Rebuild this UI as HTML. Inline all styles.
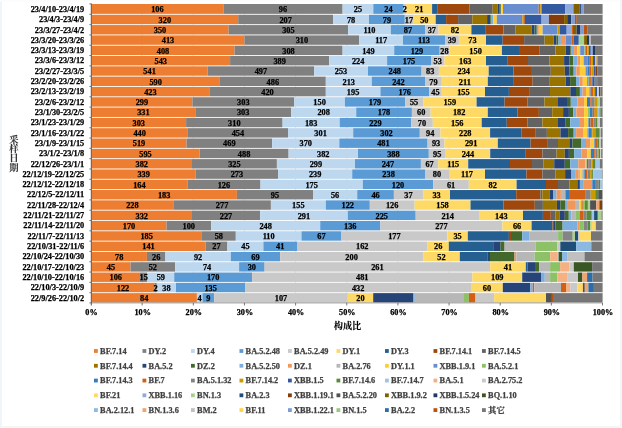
<!DOCTYPE html>
<html><head><meta charset="utf-8"><style>
html,body{margin:0;padding:0;background:#fff;width:622px;height:428px;overflow:hidden}
svg text{white-space:pre}
svg{filter:none}
</style></head><body>
<svg width="622" height="428" viewBox="0 0 622 428" style="position:absolute;left:0;top:0">
<rect x="0" y="0" width="622" height="428" fill="#ffffff"/>
<rect x="0" y="0" width="2" height="428" fill="#EEF6FA"/>
<rect x="0" y="0" width="622" height="1.5" fill="#FBFCFC"/>
<rect x="620" y="0" width="2" height="428" fill="#F1F7F9"/>
<rect x="0" y="426" width="622" height="2" fill="#F4F6F6"/>
<line x1="142.15" y1="4.45" x2="142.15" y2="302.54" stroke="#d9d9d9" stroke-width="0.75"/>
<line x1="193.30" y1="4.45" x2="193.30" y2="302.54" stroke="#d9d9d9" stroke-width="0.75"/>
<line x1="244.45" y1="4.45" x2="244.45" y2="302.54" stroke="#d9d9d9" stroke-width="0.75"/>
<line x1="295.60" y1="4.45" x2="295.60" y2="302.54" stroke="#d9d9d9" stroke-width="0.75"/>
<line x1="346.75" y1="4.45" x2="346.75" y2="302.54" stroke="#d9d9d9" stroke-width="0.75"/>
<line x1="397.90" y1="4.45" x2="397.90" y2="302.54" stroke="#d9d9d9" stroke-width="0.75"/>
<line x1="449.05" y1="4.45" x2="449.05" y2="302.54" stroke="#d9d9d9" stroke-width="0.75"/>
<line x1="500.20" y1="4.45" x2="500.20" y2="302.54" stroke="#d9d9d9" stroke-width="0.75"/>
<line x1="551.35" y1="4.45" x2="551.35" y2="302.54" stroke="#d9d9d9" stroke-width="0.75"/>
<line x1="602.50" y1="4.45" x2="602.50" y2="302.54" stroke="#d9d9d9" stroke-width="0.75"/>
<rect x="91.50" y="4.00" width="131.90" height="9.86" fill="#ED7D31"/>
<rect x="223.40" y="4.00" width="119.20" height="9.86" fill="#808080"/>
<rect x="342.60" y="4.00" width="30.70" height="9.86" fill="#BDD7EE"/>
<rect x="373.30" y="4.00" width="30.30" height="9.86" fill="#5B9BD5"/>
<rect x="403.60" y="4.00" width="2.60" height="9.86" fill="#C9C9C9"/>
<rect x="406.20" y="4.00" width="25.90" height="9.86" fill="#FFD966"/>
<rect x="432.10" y="4.00" width="5.10" height="9.86" fill="#255E91"/>
<rect x="437.20" y="4.00" width="32.20" height="9.86" fill="#9E480E"/>
<rect x="469.40" y="4.00" width="23.30" height="9.86" fill="#636363"/>
<rect x="492.70" y="4.00" width="4.80" height="9.86" fill="#997300"/>
<rect x="497.50" y="4.00" width="1.70" height="9.86" fill="#264478"/>
<rect x="499.20" y="4.00" width="1.60" height="9.86" fill="#43682B"/>
<rect x="500.80" y="4.00" width="0.60" height="9.86" fill="#7CAFDD"/>
<rect x="501.40" y="4.00" width="1.60" height="9.86" fill="#FFCD33"/>
<rect x="503.00" y="4.00" width="35.70" height="9.86" fill="#698ED0"/>
<rect x="538.70" y="4.00" width="1.60" height="9.86" fill="#D26012"/>
<rect x="540.30" y="4.00" width="1.30" height="9.86" fill="#CC9A00"/>
<rect x="541.60" y="4.00" width="23.50" height="9.86" fill="#335AA1"/>
<rect x="565.10" y="4.00" width="8.30" height="9.86" fill="#8FAADC"/>
<rect x="573.40" y="4.00" width="6.30" height="9.86" fill="#806000"/>
<rect x="579.70" y="4.00" width="1.20" height="9.86" fill="#203864"/>
<rect x="580.90" y="4.00" width="2.90" height="9.86" fill="#7C9CD6"/>
<rect x="583.80" y="4.00" width="18.70" height="9.86" fill="#767676"/>
<rect x="91.50" y="14.76" width="146.70" height="9.41" fill="#ED7D31"/>
<rect x="238.20" y="14.76" width="94.90" height="9.41" fill="#808080"/>
<rect x="333.10" y="14.76" width="35.90" height="9.41" fill="#BDD7EE"/>
<rect x="369.00" y="14.76" width="35.80" height="9.41" fill="#5B9BD5"/>
<rect x="404.80" y="14.76" width="8.20" height="9.41" fill="#C9C9C9"/>
<rect x="413.00" y="14.76" width="22.70" height="9.41" fill="#FFD966"/>
<rect x="435.70" y="14.76" width="10.40" height="9.41" fill="#255E91"/>
<rect x="446.10" y="14.76" width="12.00" height="9.41" fill="#9E480E"/>
<rect x="458.10" y="14.76" width="14.20" height="9.41" fill="#636363"/>
<rect x="472.30" y="14.76" width="14.80" height="9.41" fill="#997300"/>
<rect x="487.10" y="14.76" width="3.20" height="9.41" fill="#264478"/>
<rect x="490.30" y="14.76" width="0.70" height="9.41" fill="#43682B"/>
<rect x="491.00" y="14.76" width="2.40" height="9.41" fill="#7CAFDD"/>
<rect x="493.40" y="14.76" width="3.40" height="9.41" fill="#FFCD33"/>
<rect x="496.80" y="14.76" width="24.20" height="9.41" fill="#698ED0"/>
<rect x="521.00" y="14.76" width="1.30" height="9.41" fill="#848484"/>
<rect x="522.30" y="14.76" width="1.00" height="9.41" fill="#CC9A00"/>
<rect x="523.30" y="14.76" width="1.60" height="9.41" fill="#D26012"/>
<rect x="524.90" y="14.76" width="16.70" height="9.41" fill="#335AA1"/>
<rect x="541.60" y="14.76" width="7.30" height="9.41" fill="#8FAADC"/>
<rect x="548.90" y="14.76" width="15.20" height="9.41" fill="#843C0B"/>
<rect x="564.10" y="14.76" width="3.10" height="9.41" fill="#806000"/>
<rect x="567.20" y="14.76" width="4.00" height="9.41" fill="#203864"/>
<rect x="571.20" y="14.76" width="3.70" height="9.41" fill="#7C9CD6"/>
<rect x="574.90" y="14.76" width="1.90" height="9.41" fill="#B85410"/>
<rect x="576.80" y="14.76" width="25.70" height="9.41" fill="#767676"/>
<rect x="91.50" y="25.07" width="137.10" height="9.41" fill="#ED7D31"/>
<rect x="228.60" y="25.07" width="119.60" height="9.41" fill="#808080"/>
<rect x="348.20" y="25.07" width="42.60" height="9.41" fill="#BDD7EE"/>
<rect x="390.80" y="25.07" width="34.30" height="9.41" fill="#5B9BD5"/>
<rect x="425.10" y="25.07" width="13.50" height="9.41" fill="#C9C9C9"/>
<rect x="438.60" y="25.07" width="32.80" height="9.41" fill="#FFD966"/>
<rect x="471.40" y="25.07" width="14.40" height="9.41" fill="#255E91"/>
<rect x="485.80" y="25.07" width="17.70" height="9.41" fill="#9E480E"/>
<rect x="503.50" y="25.07" width="12.10" height="9.41" fill="#636363"/>
<rect x="515.60" y="25.07" width="15.90" height="9.41" fill="#997300"/>
<rect x="531.50" y="25.07" width="3.10" height="9.41" fill="#264478"/>
<rect x="534.60" y="25.07" width="2.20" height="9.41" fill="#43682B"/>
<rect x="536.80" y="25.07" width="1.40" height="9.41" fill="#7CAFDD"/>
<rect x="538.20" y="25.07" width="1.50" height="9.41" fill="#F1975A"/>
<rect x="539.70" y="25.07" width="2.90" height="9.41" fill="#FFCD33"/>
<rect x="542.60" y="25.07" width="14.70" height="9.41" fill="#698ED0"/>
<rect x="557.30" y="25.07" width="2.70" height="9.41" fill="#CC9A00"/>
<rect x="560.00" y="25.07" width="6.70" height="9.41" fill="#335AA1"/>
<rect x="566.70" y="25.07" width="5.30" height="9.41" fill="#8FAADC"/>
<rect x="572.00" y="25.07" width="1.00" height="9.41" fill="#D26012"/>
<rect x="573.00" y="25.07" width="3.60" height="9.41" fill="#806000"/>
<rect x="576.60" y="25.07" width="3.90" height="9.41" fill="#203864"/>
<rect x="580.50" y="25.07" width="3.10" height="9.41" fill="#7C9CD6"/>
<rect x="583.60" y="25.07" width="3.60" height="9.41" fill="#B85410"/>
<rect x="587.20" y="25.07" width="15.30" height="9.41" fill="#767676"/>
<rect x="91.50" y="35.38" width="153.00" height="9.41" fill="#ED7D31"/>
<rect x="244.50" y="35.38" width="114.80" height="9.41" fill="#808080"/>
<rect x="359.30" y="35.38" width="43.70" height="9.41" fill="#BDD7EE"/>
<rect x="403.00" y="35.38" width="42.00" height="9.41" fill="#5B9BD5"/>
<rect x="445.00" y="35.38" width="13.90" height="9.41" fill="#C9C9C9"/>
<rect x="458.90" y="35.38" width="27.10" height="9.41" fill="#FFD966"/>
<rect x="486.00" y="35.38" width="16.70" height="9.41" fill="#255E91"/>
<rect x="502.70" y="35.38" width="21.40" height="9.41" fill="#9E480E"/>
<rect x="524.10" y="35.38" width="20.50" height="9.41" fill="#636363"/>
<rect x="544.60" y="35.38" width="9.10" height="9.41" fill="#997300"/>
<rect x="553.70" y="35.38" width="2.70" height="9.41" fill="#264478"/>
<rect x="556.40" y="35.38" width="2.10" height="9.41" fill="#43682B"/>
<rect x="558.50" y="35.38" width="2.40" height="9.41" fill="#7CAFDD"/>
<rect x="560.90" y="35.38" width="4.80" height="9.41" fill="#F1975A"/>
<rect x="565.70" y="35.38" width="6.10" height="9.41" fill="#698ED0"/>
<rect x="571.80" y="35.38" width="1.90" height="9.41" fill="#D26012"/>
<rect x="573.70" y="35.38" width="5.10" height="9.41" fill="#335AA1"/>
<rect x="578.80" y="35.38" width="5.30" height="9.41" fill="#A9D18E"/>
<rect x="584.10" y="35.38" width="2.90" height="9.41" fill="#806000"/>
<rect x="587.00" y="35.38" width="2.40" height="9.41" fill="#203864"/>
<rect x="589.40" y="35.38" width="1.40" height="9.41" fill="#C0C0C0"/>
<rect x="590.80" y="35.38" width="11.70" height="9.41" fill="#767676"/>
<rect x="91.50" y="45.69" width="143.00" height="9.41" fill="#ED7D31"/>
<rect x="234.50" y="45.69" width="108.10" height="9.41" fill="#808080"/>
<rect x="342.60" y="45.69" width="51.60" height="9.41" fill="#BDD7EE"/>
<rect x="394.20" y="45.69" width="45.50" height="9.41" fill="#5B9BD5"/>
<rect x="439.70" y="45.69" width="9.60" height="9.41" fill="#C9C9C9"/>
<rect x="449.30" y="45.69" width="52.60" height="9.41" fill="#FFD966"/>
<rect x="501.90" y="45.69" width="17.10" height="9.41" fill="#255E91"/>
<rect x="519.00" y="45.69" width="20.20" height="9.41" fill="#9E480E"/>
<rect x="539.20" y="45.69" width="16.20" height="9.41" fill="#636363"/>
<rect x="555.40" y="45.69" width="10.30" height="9.41" fill="#997300"/>
<rect x="565.70" y="45.69" width="4.60" height="9.41" fill="#264478"/>
<rect x="570.30" y="45.69" width="0.70" height="9.41" fill="#43682B"/>
<rect x="571.00" y="45.69" width="3.10" height="9.41" fill="#7CAFDD"/>
<rect x="574.10" y="45.69" width="3.20" height="9.41" fill="#F1975A"/>
<rect x="577.30" y="45.69" width="2.90" height="9.41" fill="#FFCD33"/>
<rect x="580.20" y="45.69" width="4.30" height="9.41" fill="#698ED0"/>
<rect x="584.50" y="45.69" width="0.80" height="9.41" fill="#8CC168"/>
<rect x="585.30" y="45.69" width="2.10" height="9.41" fill="#D26012"/>
<rect x="587.40" y="45.69" width="1.50" height="9.41" fill="#CC9A00"/>
<rect x="588.90" y="45.69" width="1.90" height="9.41" fill="#335AA1"/>
<rect x="590.80" y="45.69" width="1.90" height="9.41" fill="#8FAADC"/>
<rect x="592.70" y="45.69" width="2.30" height="9.41" fill="#203864"/>
<rect x="595.00" y="45.69" width="7.50" height="9.41" fill="#767676"/>
<rect x="91.50" y="56.00" width="138.60" height="9.41" fill="#ED7D31"/>
<rect x="230.10" y="56.00" width="99.10" height="9.41" fill="#808080"/>
<rect x="329.20" y="56.00" width="57.90" height="9.41" fill="#BDD7EE"/>
<rect x="387.10" y="56.00" width="43.90" height="9.41" fill="#5B9BD5"/>
<rect x="431.00" y="56.00" width="13.50" height="9.41" fill="#C9C9C9"/>
<rect x="444.50" y="56.00" width="41.50" height="9.41" fill="#FFD966"/>
<rect x="486.00" y="56.00" width="21.80" height="9.41" fill="#255E91"/>
<rect x="507.80" y="56.00" width="20.20" height="9.41" fill="#9E480E"/>
<rect x="528.00" y="56.00" width="21.30" height="9.41" fill="#636363"/>
<rect x="549.30" y="56.00" width="14.80" height="9.41" fill="#997300"/>
<rect x="564.10" y="56.00" width="5.50" height="9.41" fill="#264478"/>
<rect x="569.60" y="56.00" width="3.60" height="9.41" fill="#43682B"/>
<rect x="573.20" y="56.00" width="4.10" height="9.41" fill="#7CAFDD"/>
<rect x="577.30" y="56.00" width="2.90" height="9.41" fill="#F1975A"/>
<rect x="580.20" y="56.00" width="3.40" height="9.41" fill="#FFCD33"/>
<rect x="583.60" y="56.00" width="3.80" height="9.41" fill="#698ED0"/>
<rect x="587.40" y="56.00" width="2.40" height="9.41" fill="#327DC2"/>
<rect x="589.80" y="56.00" width="1.30" height="9.41" fill="#D26012"/>
<rect x="591.10" y="56.00" width="1.90" height="9.41" fill="#CC9A00"/>
<rect x="593.00" y="56.00" width="2.10" height="9.41" fill="#335AA1"/>
<rect x="595.10" y="56.00" width="1.50" height="9.41" fill="#A9D18E"/>
<rect x="596.60" y="56.00" width="0.90" height="9.41" fill="#D26012"/>
<rect x="597.50" y="56.00" width="5.00" height="9.41" fill="#767676"/>
<rect x="91.50" y="66.31" width="116.20" height="9.41" fill="#ED7D31"/>
<rect x="207.70" y="66.31" width="106.40" height="9.41" fill="#808080"/>
<rect x="314.10" y="66.31" width="53.90" height="9.41" fill="#BDD7EE"/>
<rect x="368.00" y="66.31" width="53.60" height="9.41" fill="#5B9BD5"/>
<rect x="421.60" y="66.31" width="17.30" height="9.41" fill="#C9C9C9"/>
<rect x="438.90" y="66.31" width="49.80" height="9.41" fill="#FFD966"/>
<rect x="488.70" y="66.31" width="24.70" height="9.41" fill="#255E91"/>
<rect x="513.40" y="66.31" width="17.60" height="9.41" fill="#9E480E"/>
<rect x="531.00" y="66.31" width="19.80" height="9.41" fill="#636363"/>
<rect x="550.80" y="66.31" width="14.00" height="9.41" fill="#997300"/>
<rect x="564.80" y="66.31" width="4.50" height="9.41" fill="#264478"/>
<rect x="569.30" y="66.31" width="4.40" height="9.41" fill="#43682B"/>
<rect x="573.70" y="66.31" width="2.60" height="9.41" fill="#7CAFDD"/>
<rect x="576.30" y="66.31" width="3.60" height="9.41" fill="#F1975A"/>
<rect x="579.90" y="66.31" width="5.60" height="9.41" fill="#FFCD33"/>
<rect x="585.50" y="66.31" width="1.90" height="9.41" fill="#698ED0"/>
<rect x="587.40" y="66.31" width="2.40" height="9.41" fill="#327DC2"/>
<rect x="589.80" y="66.31" width="1.50" height="9.41" fill="#D26012"/>
<rect x="591.30" y="66.31" width="2.40" height="9.41" fill="#CC9A00"/>
<rect x="593.70" y="66.31" width="1.90" height="9.41" fill="#335AA1"/>
<rect x="595.60" y="66.31" width="2.00" height="9.41" fill="#843C0B"/>
<rect x="597.60" y="66.31" width="4.90" height="9.41" fill="#767676"/>
<rect x="91.50" y="76.62" width="128.40" height="9.41" fill="#ED7D31"/>
<rect x="219.90" y="76.62" width="105.90" height="9.41" fill="#808080"/>
<rect x="325.80" y="76.62" width="46.00" height="9.41" fill="#BDD7EE"/>
<rect x="371.80" y="76.62" width="53.20" height="9.41" fill="#5B9BD5"/>
<rect x="425.00" y="76.62" width="16.80" height="9.41" fill="#C9C9C9"/>
<rect x="441.80" y="76.62" width="46.00" height="9.41" fill="#FFD966"/>
<rect x="487.80" y="76.62" width="25.30" height="9.41" fill="#255E91"/>
<rect x="513.10" y="76.62" width="19.60" height="9.41" fill="#9E480E"/>
<rect x="532.70" y="76.62" width="17.10" height="9.41" fill="#636363"/>
<rect x="549.80" y="76.62" width="15.90" height="9.41" fill="#997300"/>
<rect x="565.70" y="76.62" width="4.40" height="9.41" fill="#264478"/>
<rect x="570.10" y="76.62" width="5.90" height="9.41" fill="#43682B"/>
<rect x="576.00" y="76.62" width="3.70" height="9.41" fill="#7CAFDD"/>
<rect x="579.70" y="76.62" width="3.10" height="9.41" fill="#F1975A"/>
<rect x="582.80" y="76.62" width="4.20" height="9.41" fill="#FFCD33"/>
<rect x="587.00" y="76.62" width="0.90" height="9.41" fill="#698ED0"/>
<rect x="587.90" y="76.62" width="0.70" height="9.41" fill="#8CC168"/>
<rect x="588.60" y="76.62" width="1.20" height="9.41" fill="#327DC2"/>
<rect x="589.80" y="76.62" width="1.10" height="9.41" fill="#D26012"/>
<rect x="590.90" y="76.62" width="1.40" height="9.41" fill="#CC9A00"/>
<rect x="592.30" y="76.62" width="2.40" height="9.41" fill="#335AA1"/>
<rect x="594.70" y="76.62" width="2.40" height="9.41" fill="#848484"/>
<rect x="597.10" y="76.62" width="5.40" height="9.41" fill="#767676"/>
<rect x="91.50" y="86.93" width="117.80" height="9.41" fill="#ED7D31"/>
<rect x="209.30" y="86.93" width="116.50" height="9.41" fill="#808080"/>
<rect x="325.80" y="86.93" width="54.60" height="9.41" fill="#BDD7EE"/>
<rect x="380.40" y="86.93" width="48.80" height="9.41" fill="#5B9BD5"/>
<rect x="429.20" y="86.93" width="12.60" height="9.41" fill="#C9C9C9"/>
<rect x="441.80" y="86.93" width="43.20" height="9.41" fill="#FFD966"/>
<rect x="485.00" y="86.93" width="23.90" height="9.41" fill="#255E91"/>
<rect x="508.90" y="86.93" width="20.20" height="9.41" fill="#9E480E"/>
<rect x="529.10" y="86.93" width="20.90" height="9.41" fill="#636363"/>
<rect x="550.00" y="86.93" width="20.30" height="9.41" fill="#997300"/>
<rect x="570.30" y="86.93" width="5.70" height="9.41" fill="#264478"/>
<rect x="576.00" y="86.93" width="3.90" height="9.41" fill="#43682B"/>
<rect x="579.90" y="86.93" width="2.70" height="9.41" fill="#7CAFDD"/>
<rect x="582.60" y="86.93" width="3.40" height="9.41" fill="#F1975A"/>
<rect x="586.00" y="86.93" width="3.40" height="9.41" fill="#FFCD33"/>
<rect x="589.40" y="86.93" width="1.40" height="9.41" fill="#698ED0"/>
<rect x="590.80" y="86.93" width="2.40" height="9.41" fill="#D26012"/>
<rect x="593.20" y="86.93" width="1.90" height="9.41" fill="#CC9A00"/>
<rect x="595.10" y="86.93" width="2.00" height="9.41" fill="#335AA1"/>
<rect x="597.10" y="86.93" width="1.90" height="9.41" fill="#C9C9C9"/>
<rect x="599.00" y="86.93" width="1.40" height="9.41" fill="#843C0B"/>
<rect x="600.40" y="86.93" width="2.10" height="9.41" fill="#767676"/>
<rect x="91.50" y="97.24" width="100.90" height="9.41" fill="#ED7D31"/>
<rect x="192.40" y="97.24" width="101.90" height="9.41" fill="#808080"/>
<rect x="294.30" y="97.24" width="50.60" height="9.41" fill="#BDD7EE"/>
<rect x="344.90" y="97.24" width="60.20" height="9.41" fill="#5B9BD5"/>
<rect x="405.10" y="97.24" width="18.00" height="9.41" fill="#C9C9C9"/>
<rect x="423.10" y="97.24" width="53.50" height="9.41" fill="#FFD966"/>
<rect x="476.60" y="97.24" width="28.00" height="9.41" fill="#255E91"/>
<rect x="504.60" y="97.24" width="22.70" height="9.41" fill="#9E480E"/>
<rect x="527.30" y="97.24" width="17.10" height="9.41" fill="#636363"/>
<rect x="544.40" y="97.24" width="13.60" height="9.41" fill="#997300"/>
<rect x="558.00" y="97.24" width="9.00" height="9.41" fill="#264478"/>
<rect x="567.00" y="97.24" width="3.80" height="9.41" fill="#43682B"/>
<rect x="570.80" y="97.24" width="6.80" height="9.41" fill="#7CAFDD"/>
<rect x="577.60" y="97.24" width="6.50" height="9.41" fill="#F1975A"/>
<rect x="584.10" y="97.24" width="2.90" height="9.41" fill="#FFCD33"/>
<rect x="587.00" y="97.24" width="3.30" height="9.41" fill="#327DC2"/>
<rect x="590.30" y="97.24" width="1.50" height="9.41" fill="#D26012"/>
<rect x="591.80" y="97.24" width="2.90" height="9.41" fill="#848484"/>
<rect x="594.70" y="97.24" width="3.10" height="9.41" fill="#CC9A00"/>
<rect x="597.80" y="97.24" width="2.20" height="9.41" fill="#A9D18E"/>
<rect x="600.00" y="97.24" width="2.50" height="9.41" fill="#767676"/>
<rect x="91.50" y="107.55" width="103.80" height="9.41" fill="#ED7D31"/>
<rect x="195.30" y="107.55" width="95.80" height="9.41" fill="#808080"/>
<rect x="291.10" y="107.55" width="65.10" height="9.41" fill="#BDD7EE"/>
<rect x="356.20" y="107.55" width="55.70" height="9.41" fill="#5B9BD5"/>
<rect x="411.90" y="107.55" width="18.70" height="9.41" fill="#C9C9C9"/>
<rect x="430.60" y="107.55" width="57.20" height="9.41" fill="#FFD966"/>
<rect x="487.80" y="107.55" width="29.50" height="9.41" fill="#255E91"/>
<rect x="517.30" y="107.55" width="21.60" height="9.41" fill="#9E480E"/>
<rect x="538.90" y="107.55" width="13.30" height="9.41" fill="#636363"/>
<rect x="552.20" y="107.55" width="10.90" height="9.41" fill="#997300"/>
<rect x="563.10" y="107.55" width="5.80" height="9.41" fill="#264478"/>
<rect x="568.90" y="107.55" width="4.50" height="9.41" fill="#43682B"/>
<rect x="573.40" y="107.55" width="2.90" height="9.41" fill="#7CAFDD"/>
<rect x="576.30" y="107.55" width="7.80" height="9.41" fill="#F1975A"/>
<rect x="584.10" y="107.55" width="3.80" height="9.41" fill="#FFCD33"/>
<rect x="587.90" y="107.55" width="1.90" height="9.41" fill="#8CC168"/>
<rect x="589.80" y="107.55" width="2.90" height="9.41" fill="#327DC2"/>
<rect x="592.70" y="107.55" width="2.00" height="9.41" fill="#D26012"/>
<rect x="594.70" y="107.55" width="3.10" height="9.41" fill="#CC9A00"/>
<rect x="597.80" y="107.55" width="1.70" height="9.41" fill="#9DC3E6"/>
<rect x="599.50" y="107.55" width="1.20" height="9.41" fill="#5A8A39"/>
<rect x="600.70" y="107.55" width="1.80" height="9.41" fill="#767676"/>
<rect x="91.50" y="117.86" width="94.60" height="9.41" fill="#ED7D31"/>
<rect x="186.10" y="117.86" width="96.50" height="9.41" fill="#808080"/>
<rect x="282.60" y="117.86" width="57.10" height="9.41" fill="#BDD7EE"/>
<rect x="339.70" y="117.86" width="71.50" height="9.41" fill="#5B9BD5"/>
<rect x="411.20" y="117.86" width="21.60" height="9.41" fill="#C9C9C9"/>
<rect x="432.80" y="117.86" width="48.90" height="9.41" fill="#FFD966"/>
<rect x="481.70" y="117.86" width="25.10" height="9.41" fill="#255E91"/>
<rect x="506.80" y="117.86" width="20.50" height="9.41" fill="#9E480E"/>
<rect x="527.30" y="117.86" width="15.10" height="9.41" fill="#636363"/>
<rect x="542.40" y="117.86" width="15.60" height="9.41" fill="#997300"/>
<rect x="558.00" y="117.86" width="7.70" height="9.41" fill="#264478"/>
<rect x="565.70" y="117.86" width="4.60" height="9.41" fill="#43682B"/>
<rect x="570.30" y="117.86" width="9.60" height="9.41" fill="#7CAFDD"/>
<rect x="579.90" y="117.86" width="4.20" height="9.41" fill="#F1975A"/>
<rect x="584.10" y="117.86" width="4.30" height="9.41" fill="#FFCD33"/>
<rect x="588.40" y="117.86" width="2.10" height="9.41" fill="#327DC2"/>
<rect x="590.50" y="117.86" width="2.90" height="9.41" fill="#D26012"/>
<rect x="593.40" y="117.86" width="1.90" height="9.41" fill="#848484"/>
<rect x="595.30" y="117.86" width="2.30" height="9.41" fill="#5A8A39"/>
<rect x="597.60" y="117.86" width="2.40" height="9.41" fill="#C9C9C9"/>
<rect x="600.00" y="117.86" width="2.50" height="9.41" fill="#767676"/>
<rect x="91.50" y="128.17" width="96.40" height="9.41" fill="#ED7D31"/>
<rect x="187.90" y="128.17" width="100.10" height="9.41" fill="#808080"/>
<rect x="288.00" y="128.17" width="65.20" height="9.41" fill="#BDD7EE"/>
<rect x="353.20" y="128.17" width="66.60" height="9.41" fill="#5B9BD5"/>
<rect x="419.80" y="128.17" width="20.70" height="9.41" fill="#C9C9C9"/>
<rect x="440.50" y="128.17" width="49.60" height="9.41" fill="#FFD966"/>
<rect x="490.10" y="128.17" width="31.60" height="9.41" fill="#255E91"/>
<rect x="521.70" y="128.17" width="14.10" height="9.41" fill="#9E480E"/>
<rect x="535.80" y="128.17" width="11.10" height="9.41" fill="#636363"/>
<rect x="546.90" y="128.17" width="13.50" height="9.41" fill="#997300"/>
<rect x="560.40" y="128.17" width="7.70" height="9.41" fill="#264478"/>
<rect x="568.10" y="128.17" width="5.60" height="9.41" fill="#43682B"/>
<rect x="573.70" y="128.17" width="2.40" height="9.41" fill="#7CAFDD"/>
<rect x="576.10" y="128.17" width="7.50" height="9.41" fill="#F1975A"/>
<rect x="583.60" y="128.17" width="3.80" height="9.41" fill="#FFCD33"/>
<rect x="587.40" y="128.17" width="1.20" height="9.41" fill="#698ED0"/>
<rect x="588.60" y="128.17" width="2.50" height="9.41" fill="#327DC2"/>
<rect x="591.10" y="128.17" width="1.20" height="9.41" fill="#D26012"/>
<rect x="592.30" y="128.17" width="3.00" height="9.41" fill="#CC9A00"/>
<rect x="595.30" y="128.17" width="4.50" height="9.41" fill="#5A8A39"/>
<rect x="599.80" y="128.17" width="0.90" height="9.41" fill="#C9C9C9"/>
<rect x="600.70" y="128.17" width="1.80" height="9.41" fill="#767676"/>
<rect x="91.50" y="138.48" width="95.00" height="9.41" fill="#ED7D31"/>
<rect x="186.50" y="138.48" width="85.70" height="9.41" fill="#808080"/>
<rect x="272.20" y="138.48" width="67.10" height="9.41" fill="#BDD7EE"/>
<rect x="339.30" y="138.48" width="88.30" height="9.41" fill="#5B9BD5"/>
<rect x="427.60" y="138.48" width="16.90" height="9.41" fill="#C9C9C9"/>
<rect x="444.50" y="138.48" width="53.30" height="9.41" fill="#FFD966"/>
<rect x="497.80" y="138.48" width="32.80" height="9.41" fill="#255E91"/>
<rect x="530.60" y="138.48" width="16.50" height="9.41" fill="#9E480E"/>
<rect x="547.10" y="138.48" width="10.90" height="9.41" fill="#636363"/>
<rect x="558.00" y="138.48" width="11.30" height="9.41" fill="#997300"/>
<rect x="569.30" y="138.48" width="3.20" height="9.41" fill="#264478"/>
<rect x="572.50" y="138.48" width="9.00" height="9.41" fill="#43682B"/>
<rect x="581.50" y="138.48" width="4.50" height="9.41" fill="#7CAFDD"/>
<rect x="586.00" y="138.48" width="4.50" height="9.41" fill="#F1975A"/>
<rect x="590.50" y="138.48" width="3.90" height="9.41" fill="#FFCD33"/>
<rect x="594.40" y="138.48" width="1.50" height="9.41" fill="#327DC2"/>
<rect x="595.90" y="138.48" width="1.90" height="9.41" fill="#D26012"/>
<rect x="597.80" y="138.48" width="1.70" height="9.41" fill="#5A8A39"/>
<rect x="599.50" y="138.48" width="1.40" height="9.41" fill="#C9C9C9"/>
<rect x="600.90" y="138.48" width="1.60" height="9.41" fill="#767676"/>
<rect x="91.50" y="148.79" width="108.10" height="9.41" fill="#ED7D31"/>
<rect x="199.60" y="148.79" width="89.00" height="9.41" fill="#808080"/>
<rect x="288.60" y="148.79" width="69.40" height="9.41" fill="#BDD7EE"/>
<rect x="358.00" y="148.79" width="70.80" height="9.41" fill="#5B9BD5"/>
<rect x="428.80" y="148.79" width="16.90" height="9.41" fill="#C9C9C9"/>
<rect x="445.70" y="148.79" width="44.50" height="9.41" fill="#FFD966"/>
<rect x="490.20" y="148.79" width="35.60" height="9.41" fill="#255E91"/>
<rect x="525.80" y="148.79" width="16.60" height="9.41" fill="#9E480E"/>
<rect x="542.40" y="148.79" width="14.20" height="9.41" fill="#636363"/>
<rect x="556.60" y="148.79" width="8.20" height="9.41" fill="#997300"/>
<rect x="564.80" y="148.79" width="4.10" height="9.41" fill="#264478"/>
<rect x="568.90" y="148.79" width="5.20" height="9.41" fill="#43682B"/>
<rect x="574.10" y="148.79" width="7.50" height="9.41" fill="#7CAFDD"/>
<rect x="581.60" y="148.79" width="5.80" height="9.41" fill="#F1975A"/>
<rect x="587.40" y="148.79" width="3.40" height="9.41" fill="#FFCD33"/>
<rect x="590.80" y="148.79" width="3.40" height="9.41" fill="#327DC2"/>
<rect x="594.20" y="148.79" width="1.10" height="9.41" fill="#D26012"/>
<rect x="595.30" y="148.79" width="2.30" height="9.41" fill="#848484"/>
<rect x="597.60" y="148.79" width="0.90" height="9.41" fill="#CC9A00"/>
<rect x="598.50" y="148.79" width="1.70" height="9.41" fill="#5A8A39"/>
<rect x="600.20" y="148.79" width="0.90" height="9.41" fill="#C9C9C9"/>
<rect x="601.10" y="148.79" width="1.40" height="9.41" fill="#767676"/>
<rect x="91.50" y="159.10" width="100.50" height="9.41" fill="#ED7D31"/>
<rect x="192.00" y="159.10" width="84.90" height="9.41" fill="#808080"/>
<rect x="276.90" y="159.10" width="78.10" height="9.41" fill="#BDD7EE"/>
<rect x="355.00" y="159.10" width="65.90" height="9.41" fill="#5B9BD5"/>
<rect x="420.90" y="159.10" width="17.30" height="9.41" fill="#C9C9C9"/>
<rect x="438.20" y="159.10" width="30.00" height="9.41" fill="#FFD966"/>
<rect x="468.20" y="159.10" width="41.80" height="9.41" fill="#255E91"/>
<rect x="510.00" y="159.10" width="22.00" height="9.41" fill="#9E480E"/>
<rect x="532.00" y="159.10" width="11.60" height="9.41" fill="#636363"/>
<rect x="543.60" y="159.10" width="10.60" height="9.41" fill="#997300"/>
<rect x="554.20" y="159.10" width="10.60" height="9.41" fill="#264478"/>
<rect x="564.80" y="159.10" width="5.50" height="9.41" fill="#43682B"/>
<rect x="570.30" y="159.10" width="8.00" height="9.41" fill="#7CAFDD"/>
<rect x="578.30" y="159.10" width="6.70" height="9.41" fill="#F1975A"/>
<rect x="585.00" y="159.10" width="1.70" height="9.41" fill="#FFCD33"/>
<rect x="586.70" y="159.10" width="1.90" height="9.41" fill="#327DC2"/>
<rect x="588.60" y="159.10" width="1.20" height="9.41" fill="#D26012"/>
<rect x="589.80" y="159.10" width="1.50" height="9.41" fill="#848484"/>
<rect x="591.30" y="159.10" width="1.70" height="9.41" fill="#CC9A00"/>
<rect x="593.00" y="159.10" width="2.60" height="9.41" fill="#5A8A39"/>
<rect x="595.60" y="159.10" width="4.20" height="9.41" fill="#9DC3E6"/>
<rect x="599.80" y="159.10" width="2.70" height="9.41" fill="#767676"/>
<rect x="91.50" y="169.41" width="104.30" height="9.41" fill="#ED7D31"/>
<rect x="195.80" y="169.41" width="82.30" height="9.41" fill="#808080"/>
<rect x="278.10" y="169.41" width="74.10" height="9.41" fill="#BDD7EE"/>
<rect x="352.20" y="169.41" width="72.80" height="9.41" fill="#5B9BD5"/>
<rect x="425.00" y="169.41" width="24.00" height="9.41" fill="#C9C9C9"/>
<rect x="449.00" y="169.41" width="36.00" height="9.41" fill="#FFD966"/>
<rect x="485.00" y="169.41" width="41.40" height="9.41" fill="#255E91"/>
<rect x="526.40" y="169.41" width="16.00" height="9.41" fill="#9E480E"/>
<rect x="542.40" y="169.41" width="13.20" height="9.41" fill="#636363"/>
<rect x="555.60" y="169.41" width="9.50" height="9.41" fill="#997300"/>
<rect x="565.10" y="169.41" width="5.90" height="9.41" fill="#264478"/>
<rect x="571.00" y="169.41" width="4.10" height="9.41" fill="#7CAFDD"/>
<rect x="575.10" y="169.41" width="3.70" height="9.41" fill="#F1975A"/>
<rect x="578.80" y="169.41" width="1.40" height="9.41" fill="#B7B7B7"/>
<rect x="580.20" y="169.41" width="2.40" height="9.41" fill="#FFCD33"/>
<rect x="582.60" y="169.41" width="1.00" height="9.41" fill="#698ED0"/>
<rect x="583.60" y="169.41" width="0.70" height="9.41" fill="#8CC168"/>
<rect x="584.30" y="169.41" width="1.70" height="9.41" fill="#327DC2"/>
<rect x="586.00" y="169.41" width="1.40" height="9.41" fill="#D26012"/>
<rect x="587.40" y="169.41" width="2.70" height="9.41" fill="#848484"/>
<rect x="590.10" y="169.41" width="2.00" height="9.41" fill="#CC9A00"/>
<rect x="592.10" y="169.41" width="1.10" height="9.41" fill="#5A8A39"/>
<rect x="593.20" y="169.41" width="8.70" height="9.41" fill="#9DC3E6"/>
<rect x="601.90" y="169.41" width="0.60" height="9.41" fill="#767676"/>
<rect x="91.50" y="179.72" width="95.90" height="9.41" fill="#ED7D31"/>
<rect x="187.40" y="179.72" width="73.10" height="9.41" fill="#808080"/>
<rect x="260.50" y="179.72" width="102.30" height="9.41" fill="#BDD7EE"/>
<rect x="362.80" y="179.72" width="70.50" height="9.41" fill="#5B9BD5"/>
<rect x="433.30" y="179.72" width="35.50" height="9.41" fill="#C9C9C9"/>
<rect x="468.80" y="179.72" width="47.80" height="9.41" fill="#FFD966"/>
<rect x="516.60" y="179.72" width="29.40" height="9.41" fill="#255E91"/>
<rect x="546.00" y="179.72" width="12.00" height="9.41" fill="#9E480E"/>
<rect x="558.00" y="179.72" width="11.60" height="9.41" fill="#636363"/>
<rect x="569.60" y="179.72" width="7.70" height="9.41" fill="#997300"/>
<rect x="577.30" y="179.72" width="2.60" height="9.41" fill="#264478"/>
<rect x="579.90" y="179.72" width="3.90" height="9.41" fill="#7CAFDD"/>
<rect x="583.80" y="179.72" width="8.50" height="9.41" fill="#F1975A"/>
<rect x="592.30" y="179.72" width="2.70" height="9.41" fill="#327DC2"/>
<rect x="595.00" y="179.72" width="0.90" height="9.41" fill="#D26012"/>
<rect x="595.90" y="179.72" width="2.90" height="9.41" fill="#848484"/>
<rect x="598.80" y="179.72" width="1.60" height="9.41" fill="#5A8A39"/>
<rect x="600.40" y="179.72" width="2.10" height="9.41" fill="#9DC3E6"/>
<rect x="91.50" y="190.03" width="145.40" height="9.41" fill="#ED7D31"/>
<rect x="236.90" y="190.03" width="76.10" height="9.41" fill="#808080"/>
<rect x="313.00" y="190.03" width="44.20" height="9.41" fill="#BDD7EE"/>
<rect x="357.20" y="190.03" width="36.70" height="9.41" fill="#5B9BD5"/>
<rect x="393.90" y="190.03" width="29.20" height="9.41" fill="#C9C9C9"/>
<rect x="423.10" y="190.03" width="26.90" height="9.41" fill="#FFD966"/>
<rect x="450.00" y="190.03" width="66.20" height="9.41" fill="#255E91"/>
<rect x="516.20" y="190.03" width="24.20" height="9.41" fill="#9E480E"/>
<rect x="540.40" y="190.03" width="1.90" height="9.41" fill="#636363"/>
<rect x="542.30" y="190.03" width="7.60" height="9.41" fill="#997300"/>
<rect x="549.90" y="190.03" width="3.10" height="9.41" fill="#264478"/>
<rect x="553.00" y="190.03" width="3.60" height="9.41" fill="#7CAFDD"/>
<rect x="556.60" y="190.03" width="4.30" height="9.41" fill="#F1975A"/>
<rect x="560.90" y="190.03" width="4.50" height="9.41" fill="#B7B7B7"/>
<rect x="565.40" y="190.03" width="4.50" height="9.41" fill="#327DC2"/>
<rect x="569.90" y="190.03" width="15.20" height="9.41" fill="#D26012"/>
<rect x="585.10" y="190.03" width="5.60" height="9.41" fill="#848484"/>
<rect x="590.70" y="190.03" width="4.50" height="9.41" fill="#CC9A00"/>
<rect x="595.20" y="190.03" width="3.00" height="9.41" fill="#5A8A39"/>
<rect x="598.20" y="190.03" width="3.80" height="9.41" fill="#525252"/>
<rect x="602.00" y="190.03" width="0.50" height="9.41" fill="#767676"/>
<rect x="91.50" y="200.34" width="81.80" height="9.41" fill="#ED7D31"/>
<rect x="173.30" y="200.34" width="97.60" height="9.41" fill="#808080"/>
<rect x="270.90" y="200.34" width="54.90" height="9.41" fill="#BDD7EE"/>
<rect x="325.80" y="200.34" width="44.00" height="9.41" fill="#5B9BD5"/>
<rect x="369.80" y="200.34" width="44.80" height="9.41" fill="#C9C9C9"/>
<rect x="414.60" y="200.34" width="55.90" height="9.41" fill="#FFD966"/>
<rect x="470.50" y="200.34" width="33.10" height="9.41" fill="#255E91"/>
<rect x="503.60" y="200.34" width="31.20" height="9.41" fill="#9E480E"/>
<rect x="534.80" y="200.34" width="8.10" height="9.41" fill="#636363"/>
<rect x="542.90" y="200.34" width="14.00" height="9.41" fill="#997300"/>
<rect x="556.90" y="200.34" width="3.40" height="9.41" fill="#264478"/>
<rect x="560.30" y="200.34" width="5.30" height="9.41" fill="#43682B"/>
<rect x="565.60" y="200.34" width="2.30" height="9.41" fill="#7CAFDD"/>
<rect x="567.90" y="200.34" width="7.10" height="9.41" fill="#F1975A"/>
<rect x="575.00" y="200.34" width="4.10" height="9.41" fill="#B7B7B7"/>
<rect x="579.10" y="200.34" width="2.30" height="9.41" fill="#FFCD33"/>
<rect x="581.40" y="200.34" width="1.40" height="9.41" fill="#D26012"/>
<rect x="582.80" y="200.34" width="2.20" height="9.41" fill="#8CC168"/>
<rect x="585.00" y="200.34" width="2.90" height="9.41" fill="#5A8A39"/>
<rect x="587.90" y="200.34" width="2.20" height="9.41" fill="#A9D18E"/>
<rect x="590.10" y="200.34" width="6.20" height="9.41" fill="#525252"/>
<rect x="596.30" y="200.34" width="3.10" height="9.41" fill="#F2A46F"/>
<rect x="599.40" y="200.34" width="2.60" height="9.41" fill="#843C0B"/>
<rect x="602.00" y="200.34" width="0.50" height="9.41" fill="#767676"/>
<rect x="91.50" y="210.65" width="100.50" height="9.41" fill="#ED7D31"/>
<rect x="192.00" y="210.65" width="68.10" height="9.41" fill="#808080"/>
<rect x="260.10" y="210.65" width="87.70" height="9.41" fill="#BDD7EE"/>
<rect x="347.80" y="210.65" width="67.90" height="9.41" fill="#5B9BD5"/>
<rect x="415.70" y="210.65" width="64.00" height="9.41" fill="#C9C9C9"/>
<rect x="479.70" y="210.65" width="43.30" height="9.41" fill="#FFD966"/>
<rect x="523.00" y="210.65" width="19.90" height="9.41" fill="#255E91"/>
<rect x="542.90" y="210.65" width="7.90" height="9.41" fill="#9E480E"/>
<rect x="550.80" y="210.65" width="4.50" height="9.41" fill="#636363"/>
<rect x="555.30" y="210.65" width="4.50" height="9.41" fill="#997300"/>
<rect x="559.80" y="210.65" width="5.00" height="9.41" fill="#264478"/>
<rect x="564.80" y="210.65" width="4.00" height="9.41" fill="#43682B"/>
<rect x="568.80" y="210.65" width="2.40" height="9.41" fill="#7CAFDD"/>
<rect x="571.20" y="210.65" width="4.10" height="9.41" fill="#B7B7B7"/>
<rect x="575.30" y="210.65" width="4.70" height="9.41" fill="#8CC168"/>
<rect x="580.00" y="210.65" width="3.20" height="9.41" fill="#D26012"/>
<rect x="583.20" y="210.65" width="3.30" height="9.41" fill="#848484"/>
<rect x="586.50" y="210.65" width="5.30" height="9.41" fill="#5A8A39"/>
<rect x="591.80" y="210.65" width="2.30" height="9.41" fill="#9DC3E6"/>
<rect x="594.10" y="210.65" width="3.70" height="9.41" fill="#1F4E79"/>
<rect x="597.80" y="210.65" width="3.60" height="9.41" fill="#A9D18E"/>
<rect x="601.40" y="210.65" width="1.10" height="9.41" fill="#767676"/>
<rect x="91.50" y="220.96" width="75.00" height="9.41" fill="#ED7D31"/>
<rect x="166.50" y="220.96" width="44.60" height="9.41" fill="#808080"/>
<rect x="211.10" y="220.96" width="109.10" height="9.41" fill="#BDD7EE"/>
<rect x="320.20" y="220.96" width="60.20" height="9.41" fill="#5B9BD5"/>
<rect x="380.40" y="220.96" width="122.10" height="9.41" fill="#C9C9C9"/>
<rect x="502.50" y="220.96" width="29.10" height="9.41" fill="#FFD966"/>
<rect x="531.60" y="220.96" width="20.80" height="9.41" fill="#255E91"/>
<rect x="552.40" y="220.96" width="0.80" height="9.41" fill="#9E480E"/>
<rect x="553.20" y="220.96" width="2.10" height="9.41" fill="#264478"/>
<rect x="555.30" y="220.96" width="7.30" height="9.41" fill="#43682B"/>
<rect x="562.60" y="220.96" width="14.90" height="9.41" fill="#7CAFDD"/>
<rect x="577.50" y="220.96" width="2.30" height="9.41" fill="#F1975A"/>
<rect x="579.80" y="220.96" width="3.80" height="9.41" fill="#8CC168"/>
<rect x="583.60" y="220.96" width="4.10" height="9.41" fill="#848484"/>
<rect x="587.70" y="220.96" width="2.40" height="9.41" fill="#5A8A39"/>
<rect x="590.10" y="220.96" width="1.70" height="9.41" fill="#A9D18E"/>
<rect x="591.80" y="220.96" width="4.00" height="9.41" fill="#FFD966"/>
<rect x="595.80" y="220.96" width="6.70" height="9.41" fill="#767676"/>
<rect x="91.50" y="231.27" width="110.40" height="9.41" fill="#ED7D31"/>
<rect x="201.90" y="231.27" width="33.90" height="9.41" fill="#808080"/>
<rect x="235.80" y="231.27" width="65.70" height="9.41" fill="#BDD7EE"/>
<rect x="301.50" y="231.27" width="40.00" height="9.41" fill="#5B9BD5"/>
<rect x="341.50" y="231.27" width="105.80" height="9.41" fill="#C9C9C9"/>
<rect x="447.30" y="231.27" width="20.50" height="9.41" fill="#FFD966"/>
<rect x="467.80" y="231.27" width="41.10" height="9.41" fill="#255E91"/>
<rect x="508.90" y="231.27" width="2.10" height="9.41" fill="#9E480E"/>
<rect x="511.00" y="231.27" width="11.20" height="9.41" fill="#43682B"/>
<rect x="522.20" y="231.27" width="6.90" height="9.41" fill="#7CAFDD"/>
<rect x="529.10" y="231.27" width="29.00" height="9.41" fill="#B7B7B7"/>
<rect x="558.10" y="231.27" width="4.50" height="9.41" fill="#8CC168"/>
<rect x="562.60" y="231.27" width="10.10" height="9.41" fill="#848484"/>
<rect x="572.70" y="231.27" width="2.30" height="9.41" fill="#A9D18E"/>
<rect x="575.00" y="231.27" width="3.30" height="9.41" fill="#1F4E79"/>
<rect x="578.30" y="231.27" width="1.50" height="9.41" fill="#C9C9C9"/>
<rect x="579.80" y="231.27" width="11.20" height="9.41" fill="#FFD966"/>
<rect x="591.00" y="231.27" width="11.50" height="9.41" fill="#767676"/>
<rect x="91.50" y="241.58" width="114.00" height="9.41" fill="#ED7D31"/>
<rect x="205.50" y="241.58" width="21.90" height="9.41" fill="#808080"/>
<rect x="227.40" y="241.58" width="36.00" height="9.41" fill="#BDD7EE"/>
<rect x="263.40" y="241.58" width="33.60" height="9.41" fill="#5B9BD5"/>
<rect x="297.00" y="241.58" width="130.60" height="9.41" fill="#C9C9C9"/>
<rect x="427.60" y="241.58" width="21.20" height="9.41" fill="#FFD966"/>
<rect x="448.80" y="241.58" width="44.40" height="9.41" fill="#255E91"/>
<rect x="493.20" y="241.58" width="7.30" height="9.41" fill="#264478"/>
<rect x="500.50" y="241.58" width="4.10" height="9.41" fill="#43682B"/>
<rect x="504.60" y="241.58" width="31.20" height="9.41" fill="#B7B7B7"/>
<rect x="535.80" y="241.58" width="21.70" height="9.41" fill="#8CC168"/>
<rect x="557.50" y="241.58" width="2.80" height="9.41" fill="#C9C9C9"/>
<rect x="560.30" y="241.58" width="15.80" height="9.41" fill="#1F4E79"/>
<rect x="576.10" y="241.58" width="15.20" height="9.41" fill="#8CB9E2"/>
<rect x="591.30" y="241.58" width="11.20" height="9.41" fill="#767676"/>
<rect x="91.50" y="251.89" width="55.40" height="9.41" fill="#ED7D31"/>
<rect x="146.90" y="251.89" width="18.50" height="9.41" fill="#808080"/>
<rect x="165.40" y="251.89" width="65.40" height="9.41" fill="#BDD7EE"/>
<rect x="230.80" y="251.89" width="49.30" height="9.41" fill="#5B9BD5"/>
<rect x="280.10" y="251.89" width="143.00" height="9.41" fill="#C9C9C9"/>
<rect x="423.10" y="251.89" width="36.70" height="9.41" fill="#FFD966"/>
<rect x="459.80" y="251.89" width="27.50" height="9.41" fill="#255E91"/>
<rect x="487.30" y="251.89" width="2.70" height="9.41" fill="#264478"/>
<rect x="490.00" y="251.89" width="24.50" height="9.41" fill="#43682B"/>
<rect x="514.50" y="251.89" width="1.80" height="9.41" fill="#F1975A"/>
<rect x="516.30" y="251.89" width="18.20" height="9.41" fill="#B7B7B7"/>
<rect x="534.50" y="251.89" width="15.70" height="9.41" fill="#8CC168"/>
<rect x="550.20" y="251.89" width="6.80" height="9.41" fill="#F4B183"/>
<rect x="557.00" y="251.89" width="1.60" height="9.41" fill="#C9C9C9"/>
<rect x="558.60" y="251.89" width="3.40" height="9.41" fill="#385723"/>
<rect x="562.00" y="251.89" width="5.10" height="9.41" fill="#8CB9E2"/>
<rect x="567.10" y="251.89" width="17.40" height="9.41" fill="#C0C0C0"/>
<rect x="584.50" y="251.89" width="18.00" height="9.41" fill="#767676"/>
<rect x="91.50" y="262.20" width="39.00" height="9.41" fill="#ED7D31"/>
<rect x="130.50" y="262.20" width="44.60" height="9.41" fill="#808080"/>
<rect x="175.10" y="262.20" width="64.00" height="9.41" fill="#BDD7EE"/>
<rect x="239.10" y="262.20" width="25.50" height="9.41" fill="#5B9BD5"/>
<rect x="264.60" y="262.20" width="225.60" height="9.41" fill="#C9C9C9"/>
<rect x="490.20" y="262.20" width="35.60" height="9.41" fill="#FFD966"/>
<rect x="525.80" y="262.20" width="1.80" height="9.41" fill="#255E91"/>
<rect x="527.60" y="262.20" width="7.40" height="9.41" fill="#264478"/>
<rect x="535.00" y="262.20" width="4.20" height="9.41" fill="#43682B"/>
<rect x="539.20" y="262.20" width="10.90" height="9.41" fill="#B7B7B7"/>
<rect x="550.10" y="262.20" width="10.00" height="9.41" fill="#8CC168"/>
<rect x="560.10" y="262.20" width="9.20" height="9.41" fill="#F4B183"/>
<rect x="569.30" y="262.20" width="4.50" height="9.41" fill="#C9C9C9"/>
<rect x="573.80" y="262.20" width="18.30" height="9.41" fill="#385723"/>
<rect x="592.10" y="262.20" width="10.40" height="9.41" fill="#767676"/>
<rect x="91.50" y="272.51" width="48.50" height="9.41" fill="#ED7D31"/>
<rect x="140.00" y="272.51" width="7.40" height="9.41" fill="#808080"/>
<rect x="147.40" y="272.51" width="26.80" height="9.41" fill="#BDD7EE"/>
<rect x="174.20" y="272.51" width="77.90" height="9.41" fill="#5B9BD5"/>
<rect x="252.10" y="272.51" width="220.30" height="9.41" fill="#C9C9C9"/>
<rect x="472.40" y="272.51" width="49.80" height="9.41" fill="#FFD966"/>
<rect x="522.20" y="272.51" width="18.80" height="9.41" fill="#264478"/>
<rect x="541.00" y="272.51" width="3.80" height="9.41" fill="#7CAFDD"/>
<rect x="544.80" y="272.51" width="5.30" height="9.41" fill="#B7B7B7"/>
<rect x="550.10" y="272.51" width="7.30" height="9.41" fill="#8CC168"/>
<rect x="557.40" y="272.51" width="9.70" height="9.41" fill="#F4B183"/>
<rect x="567.10" y="272.51" width="10.90" height="9.41" fill="#C9C9C9"/>
<rect x="578.00" y="272.51" width="4.40" height="9.41" fill="#385723"/>
<rect x="582.40" y="272.51" width="4.70" height="9.41" fill="#F2A46F"/>
<rect x="587.10" y="272.51" width="5.50" height="9.41" fill="#2B6DA9"/>
<rect x="592.60" y="272.51" width="9.90" height="9.41" fill="#767676"/>
<rect x="91.50" y="282.82" width="63.10" height="9.41" fill="#ED7D31"/>
<rect x="154.60" y="282.82" width="2.20" height="9.41" fill="#808080"/>
<rect x="156.80" y="282.82" width="19.20" height="9.41" fill="#BDD7EE"/>
<rect x="176.00" y="282.82" width="69.40" height="9.41" fill="#5B9BD5"/>
<rect x="245.40" y="282.82" width="225.60" height="9.41" fill="#C9C9C9"/>
<rect x="471.00" y="282.82" width="31.80" height="9.41" fill="#FFD966"/>
<rect x="502.80" y="282.82" width="27.40" height="9.41" fill="#264478"/>
<rect x="530.20" y="282.82" width="2.50" height="9.41" fill="#7CAFDD"/>
<rect x="532.70" y="282.82" width="1.50" height="9.41" fill="#D26012"/>
<rect x="534.20" y="282.82" width="26.80" height="9.41" fill="#B7B7B7"/>
<rect x="561.00" y="282.82" width="5.00" height="9.41" fill="#D26012"/>
<rect x="566.00" y="282.82" width="4.20" height="9.41" fill="#F4B183"/>
<rect x="570.20" y="282.82" width="7.30" height="9.41" fill="#C9C9C9"/>
<rect x="577.50" y="282.82" width="5.40" height="9.41" fill="#FFD966"/>
<rect x="582.90" y="282.82" width="1.90" height="9.41" fill="#525252"/>
<rect x="584.80" y="282.82" width="3.60" height="9.41" fill="#F2A46F"/>
<rect x="588.40" y="282.82" width="5.50" height="9.41" fill="#2B6DA9"/>
<rect x="593.90" y="282.82" width="8.60" height="9.41" fill="#767676"/>
<rect x="91.50" y="293.13" width="105.40" height="9.41" fill="#ED7D31"/>
<rect x="196.90" y="293.13" width="5.60" height="9.41" fill="#BDD7EE"/>
<rect x="202.50" y="293.13" width="11.70" height="9.41" fill="#5B9BD5"/>
<rect x="214.20" y="293.13" width="133.60" height="9.41" fill="#C9C9C9"/>
<rect x="347.80" y="293.13" width="25.40" height="9.41" fill="#FFD966"/>
<rect x="373.20" y="293.13" width="39.80" height="9.41" fill="#264478"/>
<rect x="413.00" y="293.13" width="1.80" height="9.41" fill="#7CAFDD"/>
<rect x="414.80" y="293.13" width="49.20" height="9.41" fill="#B7B7B7"/>
<rect x="464.00" y="293.13" width="4.80" height="9.41" fill="#8CC168"/>
<rect x="468.80" y="293.13" width="6.70" height="9.41" fill="#D26012"/>
<rect x="475.50" y="293.13" width="18.70" height="9.41" fill="#C9C9C9"/>
<rect x="494.20" y="293.13" width="51.80" height="9.41" fill="#FFD966"/>
<rect x="546.00" y="293.13" width="5.90" height="9.41" fill="#525252"/>
<rect x="551.90" y="293.13" width="1.10" height="9.41" fill="#B85410"/>
<rect x="553.00" y="293.13" width="49.50" height="9.41" fill="#767676"/>
<g font-family="Liberation Serif, serif" font-weight="bold" font-size="8.3" fill="#000000" stroke="#000000" stroke-width="0.25" text-anchor="middle">
<text x="157.45" y="12.36">106</text>
<text x="283.00" y="12.36">96</text>
<text x="357.95" y="12.36">25</text>
<text x="388.45" y="12.36">24</text>
<text x="404.90" y="12.36">2</text>
<text x="419.15" y="12.36">21</text>
<text x="164.85" y="22.67">320</text>
<text x="285.65" y="22.67">207</text>
<text x="351.05" y="22.67">78</text>
<text x="386.90" y="22.67">79</text>
<text x="408.90" y="22.67">17</text>
<text x="424.35" y="22.67">50</text>
<text x="160.05" y="32.98">350</text>
<text x="288.40" y="32.98">305</text>
<text x="369.50" y="32.98">110</text>
<text x="407.95" y="32.98">87</text>
<text x="431.85" y="32.98">37</text>
<text x="455.00" y="32.98">82</text>
<text x="168.00" y="43.29">413</text>
<text x="301.90" y="43.29">310</text>
<text x="381.15" y="43.29">117</text>
<text x="424.00" y="43.29">113</text>
<text x="451.95" y="43.29">39</text>
<text x="472.45" y="43.29">73</text>
<text x="163.00" y="53.60">408</text>
<text x="288.55" y="53.60">308</text>
<text x="368.40" y="53.60">149</text>
<text x="416.95" y="53.60">129</text>
<text x="444.50" y="53.60">28</text>
<text x="475.60" y="53.60">150</text>
<text x="160.80" y="63.91">543</text>
<text x="279.65" y="63.91">389</text>
<text x="358.15" y="63.91">224</text>
<text x="409.05" y="63.91">175</text>
<text x="437.75" y="63.91">53</text>
<text x="465.25" y="63.91">163</text>
<text x="149.60" y="74.22">541</text>
<text x="260.90" y="74.22">497</text>
<text x="341.05" y="74.22">253</text>
<text x="394.80" y="74.22">248</text>
<text x="430.25" y="74.22">83</text>
<text x="463.80" y="74.22">234</text>
<text x="155.70" y="84.53">590</text>
<text x="272.85" y="84.53">486</text>
<text x="348.80" y="84.53">213</text>
<text x="398.40" y="84.53">242</text>
<text x="433.40" y="84.53">79</text>
<text x="464.80" y="84.53">211</text>
<text x="150.40" y="94.84">423</text>
<text x="267.55" y="94.84">420</text>
<text x="353.10" y="94.84">195</text>
<text x="404.80" y="94.84">176</text>
<text x="435.50" y="94.84">45</text>
<text x="463.40" y="94.84">155</text>
<text x="141.95" y="105.15">299</text>
<text x="243.35" y="105.15">303</text>
<text x="319.60" y="105.15">150</text>
<text x="375.00" y="105.15">179</text>
<text x="414.10" y="105.15">55</text>
<text x="449.85" y="105.15">159</text>
<text x="143.40" y="115.46">331</text>
<text x="243.20" y="115.46">303</text>
<text x="323.65" y="115.46">208</text>
<text x="384.05" y="115.46">178</text>
<text x="421.25" y="115.46">60</text>
<text x="459.20" y="115.46">182</text>
<text x="138.80" y="125.77">303</text>
<text x="234.35" y="125.77">310</text>
<text x="311.15" y="125.77">183</text>
<text x="375.45" y="125.77">229</text>
<text x="422.00" y="125.77">70</text>
<text x="457.25" y="125.77">156</text>
<text x="139.70" y="136.07">440</text>
<text x="237.95" y="136.07">454</text>
<text x="320.60" y="136.07">301</text>
<text x="386.50" y="136.07">302</text>
<text x="430.15" y="136.07">94</text>
<text x="465.30" y="136.07">228</text>
<text x="139.00" y="146.38">519</text>
<text x="229.35" y="146.38">469</text>
<text x="305.75" y="146.38">370</text>
<text x="383.45" y="146.38">481</text>
<text x="436.05" y="146.38">93</text>
<text x="471.15" y="146.38">291</text>
<text x="145.55" y="156.69">595</text>
<text x="244.10" y="156.69">488</text>
<text x="323.30" y="156.69">382</text>
<text x="393.40" y="156.69">388</text>
<text x="437.25" y="156.69">95</text>
<text x="467.95" y="156.69">244</text>
<text x="141.75" y="167.00">382</text>
<text x="234.45" y="167.00">325</text>
<text x="315.95" y="167.00">299</text>
<text x="387.95" y="167.00">247</text>
<text x="429.55" y="167.00">67</text>
<text x="453.20" y="167.00">115</text>
<text x="143.65" y="177.31">339</text>
<text x="236.95" y="177.31">273</text>
<text x="315.15" y="177.31">239</text>
<text x="388.60" y="177.31">238</text>
<text x="437.00" y="177.31">80</text>
<text x="467.00" y="177.31">117</text>
<text x="139.45" y="187.62">164</text>
<text x="223.95" y="187.62">126</text>
<text x="311.65" y="187.62">175</text>
<text x="398.05" y="187.62">120</text>
<text x="451.05" y="187.62">61</text>
<text x="492.70" y="187.62">82</text>
<text x="164.20" y="197.94">183</text>
<text x="274.95" y="197.94">95</text>
<text x="335.10" y="197.94">56</text>
<text x="375.55" y="197.94">46</text>
<text x="408.50" y="197.94">37</text>
<text x="436.55" y="197.94">33</text>
<text x="132.40" y="208.25">228</text>
<text x="222.10" y="208.25">277</text>
<text x="298.35" y="208.25">155</text>
<text x="347.80" y="208.25">122</text>
<text x="392.20" y="208.25">126</text>
<text x="442.55" y="208.25">158</text>
<text x="141.75" y="218.56">332</text>
<text x="226.05" y="218.56">227</text>
<text x="303.95" y="218.56">291</text>
<text x="381.75" y="218.56">225</text>
<text x="447.70" y="218.56">214</text>
<text x="501.35" y="218.56">143</text>
<text x="129.00" y="228.87">170</text>
<text x="188.80" y="228.87">100</text>
<text x="265.65" y="228.87">248</text>
<text x="350.30" y="228.87">136</text>
<text x="441.45" y="228.87">277</text>
<text x="517.05" y="228.87">66</text>
<text x="146.70" y="239.18">185</text>
<text x="218.85" y="239.18">58</text>
<text x="268.65" y="239.18">110</text>
<text x="321.50" y="239.18">67</text>
<text x="394.40" y="239.18">177</text>
<text x="457.55" y="239.18">35</text>
<text x="148.50" y="249.49">141</text>
<text x="216.45" y="249.49">27</text>
<text x="245.40" y="249.49">45</text>
<text x="280.20" y="249.49">41</text>
<text x="362.30" y="249.49">162</text>
<text x="438.20" y="249.49">26</text>
<text x="119.20" y="259.79">78</text>
<text x="156.15" y="259.79">26</text>
<text x="198.10" y="259.79">92</text>
<text x="255.45" y="259.79">69</text>
<text x="351.60" y="259.79">200</text>
<text x="441.45" y="259.79">52</text>
<text x="111.00" y="270.10">45</text>
<text x="152.80" y="270.10">52</text>
<text x="207.10" y="270.10">74</text>
<text x="251.85" y="270.10">30</text>
<text x="377.40" y="270.10">261</text>
<text x="508.00" y="270.10">41</text>
<text x="115.75" y="280.41">106</text>
<text x="143.70" y="280.41">15</text>
<text x="160.80" y="280.41">59</text>
<text x="213.15" y="280.41">170</text>
<text x="362.25" y="280.41">481</text>
<text x="497.30" y="280.41">109</text>
<text x="123.05" y="290.72">122</text>
<text x="155.70" y="290.72">2</text>
<text x="166.40" y="290.72">38</text>
<text x="210.70" y="290.72">135</text>
<text x="358.20" y="290.72">432</text>
<text x="486.90" y="290.72">60</text>
<text x="144.20" y="301.03">84</text>
<text x="199.70" y="301.03">4</text>
<text x="208.35" y="301.03">9</text>
<text x="281.00" y="301.03">107</text>
<text x="360.50" y="301.03">20</text>
</g>
<line x1="91.00" y1="302.9" x2="602.50" y2="302.9" stroke="#9a9a9a" stroke-width="1"/>
<line x1="89.40" y1="3.90" x2="91.30" y2="3.90" stroke="#5a5a5a" stroke-width="0.8"/>
<line x1="89.40" y1="14.31" x2="91.30" y2="14.31" stroke="#5a5a5a" stroke-width="0.8"/>
<line x1="89.40" y1="24.62" x2="91.30" y2="24.62" stroke="#5a5a5a" stroke-width="0.8"/>
<line x1="89.40" y1="34.93" x2="91.30" y2="34.93" stroke="#5a5a5a" stroke-width="0.8"/>
<line x1="89.40" y1="45.24" x2="91.30" y2="45.24" stroke="#5a5a5a" stroke-width="0.8"/>
<line x1="89.40" y1="55.55" x2="91.30" y2="55.55" stroke="#5a5a5a" stroke-width="0.8"/>
<line x1="89.40" y1="65.86" x2="91.30" y2="65.86" stroke="#5a5a5a" stroke-width="0.8"/>
<line x1="89.40" y1="76.17" x2="91.30" y2="76.17" stroke="#5a5a5a" stroke-width="0.8"/>
<line x1="89.40" y1="86.48" x2="91.30" y2="86.48" stroke="#5a5a5a" stroke-width="0.8"/>
<line x1="89.40" y1="96.79" x2="91.30" y2="96.79" stroke="#5a5a5a" stroke-width="0.8"/>
<line x1="89.40" y1="107.10" x2="91.30" y2="107.10" stroke="#5a5a5a" stroke-width="0.8"/>
<line x1="89.40" y1="117.41" x2="91.30" y2="117.41" stroke="#5a5a5a" stroke-width="0.8"/>
<line x1="89.40" y1="127.72" x2="91.30" y2="127.72" stroke="#5a5a5a" stroke-width="0.8"/>
<line x1="89.40" y1="138.03" x2="91.30" y2="138.03" stroke="#5a5a5a" stroke-width="0.8"/>
<line x1="89.40" y1="148.34" x2="91.30" y2="148.34" stroke="#5a5a5a" stroke-width="0.8"/>
<line x1="89.40" y1="158.65" x2="91.30" y2="158.65" stroke="#5a5a5a" stroke-width="0.8"/>
<line x1="89.40" y1="168.96" x2="91.30" y2="168.96" stroke="#5a5a5a" stroke-width="0.8"/>
<line x1="89.40" y1="179.27" x2="91.30" y2="179.27" stroke="#5a5a5a" stroke-width="0.8"/>
<line x1="89.40" y1="189.58" x2="91.30" y2="189.58" stroke="#5a5a5a" stroke-width="0.8"/>
<line x1="89.40" y1="199.89" x2="91.30" y2="199.89" stroke="#5a5a5a" stroke-width="0.8"/>
<line x1="89.40" y1="210.20" x2="91.30" y2="210.20" stroke="#5a5a5a" stroke-width="0.8"/>
<line x1="89.40" y1="220.51" x2="91.30" y2="220.51" stroke="#5a5a5a" stroke-width="0.8"/>
<line x1="89.40" y1="230.82" x2="91.30" y2="230.82" stroke="#5a5a5a" stroke-width="0.8"/>
<line x1="89.40" y1="241.13" x2="91.30" y2="241.13" stroke="#5a5a5a" stroke-width="0.8"/>
<line x1="89.40" y1="251.44" x2="91.30" y2="251.44" stroke="#5a5a5a" stroke-width="0.8"/>
<line x1="89.40" y1="261.75" x2="91.30" y2="261.75" stroke="#5a5a5a" stroke-width="0.8"/>
<line x1="89.40" y1="272.06" x2="91.30" y2="272.06" stroke="#5a5a5a" stroke-width="0.8"/>
<line x1="89.40" y1="282.37" x2="91.30" y2="282.37" stroke="#5a5a5a" stroke-width="0.8"/>
<line x1="89.40" y1="292.68" x2="91.30" y2="292.68" stroke="#5a5a5a" stroke-width="0.8"/>
<line x1="89.40" y1="302.90" x2="91.30" y2="302.90" stroke="#5a5a5a" stroke-width="0.8"/>
<line x1="142.15" y1="302.90" x2="142.15" y2="305.50" stroke="#5a5a5a" stroke-width="0.8"/>
<line x1="193.30" y1="302.90" x2="193.30" y2="305.50" stroke="#5a5a5a" stroke-width="0.8"/>
<line x1="244.45" y1="302.90" x2="244.45" y2="305.50" stroke="#5a5a5a" stroke-width="0.8"/>
<line x1="295.60" y1="302.90" x2="295.60" y2="305.50" stroke="#5a5a5a" stroke-width="0.8"/>
<line x1="346.75" y1="302.90" x2="346.75" y2="305.50" stroke="#5a5a5a" stroke-width="0.8"/>
<line x1="397.90" y1="302.90" x2="397.90" y2="305.50" stroke="#5a5a5a" stroke-width="0.8"/>
<line x1="449.05" y1="302.90" x2="449.05" y2="305.50" stroke="#5a5a5a" stroke-width="0.8"/>
<line x1="500.20" y1="302.90" x2="500.20" y2="305.50" stroke="#5a5a5a" stroke-width="0.8"/>
<line x1="551.35" y1="302.90" x2="551.35" y2="305.50" stroke="#5a5a5a" stroke-width="0.8"/>
<line x1="602.50" y1="302.90" x2="602.50" y2="305.50" stroke="#5a5a5a" stroke-width="0.8"/>
<line x1="91.30" y1="3.50" x2="91.30" y2="305.50" stroke="#4a4a4a" stroke-width="0.9"/>
<g font-family="Liberation Serif, serif" font-weight="bold" font-size="8.3" fill="#000000" stroke="#000000" stroke-width="0.25" text-anchor="end">
<text x="84.2" y="11.91">23/4/10-23/4/19</text>
<text x="84.2" y="22.22">23/4/3-23/4/9</text>
<text x="84.2" y="32.52">23/3/27-23/4/2</text>
<text x="84.2" y="42.84">23/3/20-23/3/26</text>
<text x="84.2" y="53.15">23/3/13-23/3/19</text>
<text x="84.2" y="63.46">23/3/6-23/3/12</text>
<text x="84.2" y="73.77">23/2/27-23/3/5</text>
<text x="84.2" y="84.08">23/2/20-23/2/26</text>
<text x="84.2" y="94.39">23/2/13-23/2/19</text>
<text x="84.2" y="104.70">23/2/6-23/2/12</text>
<text x="84.2" y="115.01">23/1/30-23/2/5</text>
<text x="84.2" y="125.32">23/1/23-23/1/29</text>
<text x="84.2" y="135.62">23/1/16-23/1/22</text>
<text x="84.2" y="145.94">23/1/9-23/1/15</text>
<text x="84.2" y="156.25">23/1/2-23/1/8</text>
<text x="84.2" y="166.56">22/12/26-23/1/1</text>
<text x="84.2" y="176.87">22/12/19-22/12/25</text>
<text x="84.2" y="187.18">22/12/12-22/12/18</text>
<text x="84.2" y="197.49">22/12/5-22/12/11</text>
<text x="84.2" y="207.80">22/11/28-22/12/4</text>
<text x="84.2" y="218.11">22/11/21-22/11/27</text>
<text x="84.2" y="228.42">22/11/14-22/11/20</text>
<text x="84.2" y="238.73">22/11/7-22/11/13</text>
<text x="84.2" y="249.04">22/10/31-22/11/6</text>
<text x="84.2" y="259.34">22/10/24-22/10/30</text>
<text x="84.2" y="269.65">22/10/17-22/10/23</text>
<text x="84.2" y="279.96">22/10/10-22/10/16</text>
<text x="84.2" y="290.27">22/10/3-22/10/9</text>
<text x="84.2" y="300.58">22/9/26-22/10/2</text>
</g>
<g font-family="Liberation Serif, serif" font-weight="bold" font-size="8.2" fill="#000000" stroke="#000000" stroke-width="0.25" text-anchor="middle">
<text x="91.50" y="315.0">0%</text>
<text x="142.65" y="315.0">10%</text>
<text x="193.80" y="315.0">20%</text>
<text x="244.95" y="315.0">30%</text>
<text x="296.10" y="315.0">40%</text>
<text x="347.25" y="315.0">50%</text>
<text x="398.40" y="315.0">60%</text>
<text x="449.55" y="315.0">70%</text>
<text x="500.70" y="315.0">80%</text>
<text x="551.85" y="315.0">90%</text>
<text x="603.00" y="315.0">100%</text>
</g>
<text x="347.5" y="329.2" font-family="Liberation Serif, Noto Serif CJK SC, serif" font-weight="bold" font-size="9.2" fill="#000000" stroke="#000000" stroke-width="0.15" text-anchor="middle">构成比</text>
<text x="14" y="142.50" font-family="Liberation Serif, Noto Serif CJK SC, serif" font-weight="bold" font-size="9.3" fill="#303030" stroke="#303030" stroke-width="0.1" text-anchor="middle">采</text>
<text x="14" y="151.90" font-family="Liberation Serif, Noto Serif CJK SC, serif" font-weight="bold" font-size="9.3" fill="#303030" stroke="#303030" stroke-width="0.1" text-anchor="middle">样</text>
<text x="14" y="161.30" font-family="Liberation Serif, Noto Serif CJK SC, serif" font-weight="bold" font-size="9.3" fill="#303030" stroke="#303030" stroke-width="0.1" text-anchor="middle">日</text>
<text x="14" y="170.70" font-family="Liberation Serif, Noto Serif CJK SC, serif" font-weight="bold" font-size="9.3" fill="#303030" stroke="#303030" stroke-width="0.1" text-anchor="middle">期</text>
<g font-family="Liberation Serif, Noto Serif CJK SC, serif" font-weight="bold" font-size="8.3" fill="#404040" stroke="#404040" stroke-width="0.25">
<rect x="94.00" y="349.10" width="3.8" height="3.8" fill="#ED7D31" stroke="none"/>
<text x="100.10" y="353.90">BF.7.14</text>
<rect x="142.50" y="349.10" width="3.8" height="3.8" fill="#808080" stroke="none"/>
<text x="148.60" y="353.90">DY.2</text>
<rect x="191.00" y="349.10" width="3.8" height="3.8" fill="#BDD7EE" stroke="none"/>
<text x="197.10" y="353.90">DY.4</text>
<rect x="239.50" y="349.10" width="3.8" height="3.8" fill="#5B9BD5" stroke="none"/>
<text x="245.60" y="353.90">BA.5.2.48</text>
<rect x="288.00" y="349.10" width="3.8" height="3.8" fill="#C9C9C9" stroke="none"/>
<text x="294.10" y="353.90">BA.5.2.49</text>
<rect x="336.50" y="349.10" width="3.8" height="3.8" fill="#FFD966" stroke="none"/>
<text x="342.60" y="353.90">DY.1</text>
<rect x="385.00" y="349.10" width="3.8" height="3.8" fill="#255E91" stroke="none"/>
<text x="391.10" y="353.90">DY.3</text>
<rect x="433.50" y="349.10" width="3.8" height="3.8" fill="#9E480E" stroke="none"/>
<text x="439.60" y="353.90">BF.7.14.1</text>
<rect x="482.00" y="349.10" width="3.8" height="3.8" fill="#636363" stroke="none"/>
<text x="488.10" y="353.90">BF.7.14.5</text>
<rect x="94.00" y="363.87" width="3.8" height="3.8" fill="#997300" stroke="none"/>
<text x="100.10" y="368.67">BF.7.14.4</text>
<rect x="142.50" y="363.87" width="3.8" height="3.8" fill="#264478" stroke="none"/>
<text x="148.60" y="368.67">BA.5.2</text>
<rect x="191.00" y="363.87" width="3.8" height="3.8" fill="#43682B" stroke="none"/>
<text x="197.10" y="368.67">DZ.2</text>
<rect x="239.50" y="363.87" width="3.8" height="3.8" fill="#7CAFDD" stroke="none"/>
<text x="245.60" y="368.67">BA.5.2.50</text>
<rect x="288.00" y="363.87" width="3.8" height="3.8" fill="#F1975A" stroke="none"/>
<text x="294.10" y="368.67">DZ.1</text>
<rect x="336.50" y="363.87" width="3.8" height="3.8" fill="#B7B7B7" stroke="none"/>
<text x="342.60" y="368.67">BA.2.76</text>
<rect x="385.00" y="363.87" width="3.8" height="3.8" fill="#FFCD33" stroke="none"/>
<text x="391.10" y="368.67">DY.1.1</text>
<rect x="433.50" y="363.87" width="3.8" height="3.8" fill="#698ED0" stroke="none"/>
<text x="439.60" y="368.67">XBB.1.9.1</text>
<rect x="482.00" y="363.87" width="3.8" height="3.8" fill="#8CC168" stroke="none"/>
<text x="488.10" y="368.67">BA.5.2.1</text>
<rect x="94.00" y="378.64" width="3.8" height="3.8" fill="#327DC2" stroke="none"/>
<text x="100.10" y="383.44">BF.7.14.3</text>
<rect x="142.50" y="378.64" width="3.8" height="3.8" fill="#D26012" stroke="none"/>
<text x="148.60" y="383.44">BF.7</text>
<rect x="191.00" y="378.64" width="3.8" height="3.8" fill="#848484" stroke="none"/>
<text x="197.10" y="383.44">BA.5.1.32</text>
<rect x="239.50" y="378.64" width="3.8" height="3.8" fill="#CC9A00" stroke="none"/>
<text x="245.60" y="383.44">BF.7.14.2</text>
<rect x="288.00" y="378.64" width="3.8" height="3.8" fill="#335AA1" stroke="none"/>
<text x="294.10" y="383.44">XBB.1.5</text>
<rect x="336.50" y="378.64" width="3.8" height="3.8" fill="#5A8A39" stroke="none"/>
<text x="342.60" y="383.44">BF.7.14.6</text>
<rect x="385.00" y="378.64" width="3.8" height="3.8" fill="#9DC3E6" stroke="none"/>
<text x="391.10" y="383.44">BF.7.14.7</text>
<rect x="433.50" y="378.64" width="3.8" height="3.8" fill="#F4B183" stroke="none"/>
<text x="439.60" y="383.44">BA.5.1</text>
<rect x="482.00" y="378.64" width="3.8" height="3.8" fill="#C9C9C9" stroke="none"/>
<text x="488.10" y="383.44">BA.2.75.2</text>
<rect x="94.00" y="393.41" width="3.8" height="3.8" fill="#FFD966" stroke="none"/>
<text x="100.10" y="398.21">BF.21</text>
<rect x="142.50" y="393.41" width="3.8" height="3.8" fill="#8FAADC" stroke="none"/>
<text x="148.60" y="398.21">XBB.1.16</text>
<rect x="191.00" y="393.41" width="3.8" height="3.8" fill="#A9D18E" stroke="none"/>
<text x="197.10" y="398.21">BN.1.3</text>
<rect x="239.50" y="393.41" width="3.8" height="3.8" fill="#1F4E79" stroke="none"/>
<text x="245.60" y="398.21">BA.2.3</text>
<rect x="288.00" y="393.41" width="3.8" height="3.8" fill="#843C0B" stroke="none"/>
<text x="294.10" y="398.21">XBB.1.19.1</text>
<rect x="336.50" y="393.41" width="3.8" height="3.8" fill="#525252" stroke="none"/>
<text x="342.60" y="398.21">BA.5.2.20</text>
<rect x="385.00" y="393.41" width="3.8" height="3.8" fill="#806000" stroke="none"/>
<text x="391.10" y="398.21">XBB.1.9.2</text>
<rect x="433.50" y="393.41" width="3.8" height="3.8" fill="#203864" stroke="none"/>
<text x="439.60" y="398.21">XBB.1.5.24</text>
<rect x="482.00" y="393.41" width="3.8" height="3.8" fill="#385723" stroke="none"/>
<text x="488.10" y="398.21">BQ.1.10</text>
<rect x="94.00" y="408.18" width="3.8" height="3.8" fill="#8CB9E2" stroke="none"/>
<text x="100.10" y="412.98">BA.2.12.1</text>
<rect x="142.50" y="408.18" width="3.8" height="3.8" fill="#F2A46F" stroke="none"/>
<text x="148.60" y="412.98">BN.1.3.6</text>
<rect x="191.00" y="408.18" width="3.8" height="3.8" fill="#C0C0C0" stroke="none"/>
<text x="197.10" y="412.98">BM.2</text>
<rect x="239.50" y="408.18" width="3.8" height="3.8" fill="#FFD34C" stroke="none"/>
<text x="245.60" y="412.98">BF.11</text>
<rect x="288.00" y="408.18" width="3.8" height="3.8" fill="#7C9CD6" stroke="none"/>
<text x="294.10" y="412.98">XBB.1.22.1</text>
<rect x="336.50" y="408.18" width="3.8" height="3.8" fill="#9AC97B" stroke="none"/>
<text x="342.60" y="412.98">BN.1.5</text>
<rect x="385.00" y="408.18" width="3.8" height="3.8" fill="#2B6DA9" stroke="none"/>
<text x="391.10" y="412.98">BA.2.2</text>
<rect x="433.50" y="408.18" width="3.8" height="3.8" fill="#B85410" stroke="none"/>
<text x="439.60" y="412.98">BN.1.3.5</text>
<rect x="482.00" y="408.18" width="3.8" height="3.8" fill="#767676" stroke="none"/>
<text x="488.10" y="412.98">其它</text>
</g>
</svg>
</body></html>
